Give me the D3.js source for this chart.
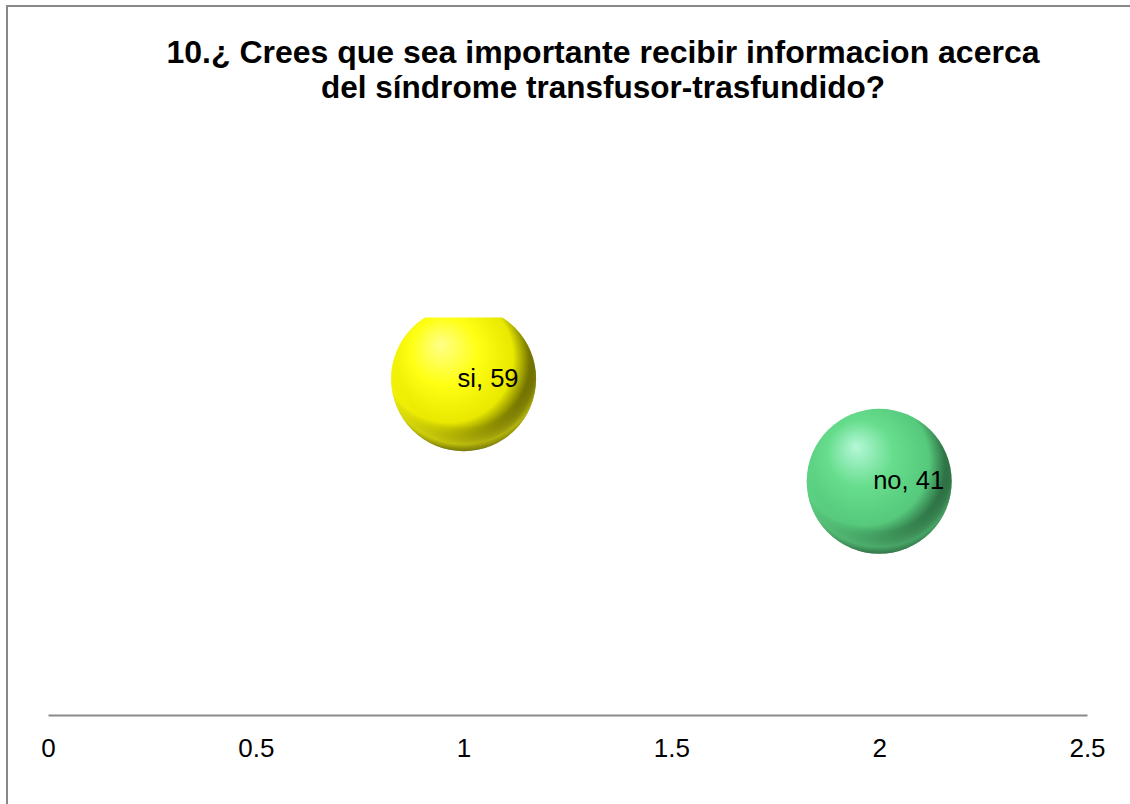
<!DOCTYPE html>
<html>
<head>
<meta charset="utf-8">
<script src="https://cdn.jsdelivr.net/npm/d3@7"></script>
<style>
  html, body { margin: 0; padding: 0; background: #fff; }
  svg { display: block; font-family: "Liberation Sans", Arial, sans-serif; }
</style>
</head>
<body>
<svg id="chart" width="1130" height="804"></svg>
<script>
const titleLines = ["10.¿ Crees que sea importante recibir informacion acerca", "del síndrome transfusor-trasfundido?"];
const categories = ["si", "no"];
const xValues = [1, 2];
const yValues = [59, 41];
const bubbleSizes = [1, 1];
const xTicks = [0, 0.5, 1, 1.5, 2, 2.5];
const colors = [
  { light: "#ffff8a", base: "#ffff14", mid: "#e8e800", dark: "#404000" },
  { light: "#b4f8d8", base: "#66dd8c", mid: "#56c97c", dark: "#1c4c2c" }
];

const svg = d3.select("#chart");
const W = 1130, H = 804;

// Chart border
svg.append("rect").attr("x", 7).attr("y", 6).attr("width", W + 10).attr("height", H + 10)
  .attr("fill", "#fff").attr("stroke", "#888").attr("stroke-width", 2);

// Title
const titleWidths = [873, 564];
const title = svg.append("text").attr("text-anchor", "middle")
  .attr("font-size", 30.5).attr("font-weight", "bold").attr("fill", "#000");
titleLines.forEach((t, i) => {
  title.append("tspan").attr("x", 603).attr("y", 63 + i * 35)
    .attr("textLength", titleWidths[i]).attr("lengthAdjust", "spacingAndGlyphs").text(t);
});

const plot = { left: 48, right: 1087, top: 316, bottom: 715 };
const x = d3.scaleLinear().domain([0, 2.5]).range([plot.left, plot.right]);
const y = d3.scaleLinear().domain([0, 70]).range([plot.bottom, plot.top]);
const r = d3.scaleSqrt().domain([0, d3.max(bubbleSizes)]).range([0, 72.5]);

const defs = svg.append("defs");
defs.append("clipPath").attr("id", "plotClip").append("rect")
  .attr("x", plot.left - 80).attr("y", plot.top + 1.5)
  .attr("width", plot.right - plot.left + 160).attr("height", plot.bottom - plot.top + 80);

colors.forEach((c, i) => {
  const g = defs.append("radialGradient").attr("id", "grad" + i)
    .attr("cx", "42%").attr("cy", "40%").attr("r", "66%")
    .attr("fx", "34%").attr("fy", "26%");
  g.append("stop").attr("offset", "0%").attr("stop-color", c.light);
  g.append("stop").attr("offset", "35%").attr("stop-color", c.base);
  g.append("stop").attr("offset", "68%").attr("stop-color", c.mid);
  g.append("stop").attr("offset", "90%").attr("stop-color", c.dark);
  g.append("stop").attr("offset", "100%").attr("stop-color", c.dark);
  // bottom reflection rim
  const g2 = defs.append("radialGradient").attr("id", "rim" + i)
    .attr("cx", "50%").attr("cy", "45%").attr("r", "55%");
  g2.append("stop").attr("offset", "75%").attr("stop-color", c.base).attr("stop-opacity", 0);
  g2.append("stop").attr("offset", "92%").attr("stop-color", c.base).attr("stop-opacity", 0.6);
  g2.append("stop").attr("offset", "100%").attr("stop-color", c.base).attr("stop-opacity", 0.3);
});

const data = categories.map((c, i) => ({ cat: c, x: xValues[i], y: yValues[i], s: bubbleSizes[i], i }));

const bubbles = svg.append("g").attr("clip-path", "url(#plotClip)");
data.forEach(d => {
  const cp = defs.append("clipPath").attr("id", "bc" + d.i);
  cp.append("circle").attr("cx", x(d.x)).attr("cy", y(d.y)).attr("r", r(d.s));
});
bubbles.selectAll("circle.b").data(data).enter().append("circle").attr("class", "b")
  .attr("cx", d => x(d.x)).attr("cy", d => y(d.y)).attr("r", d => r(d.s))
  .attr("fill", d => `url(#grad${d.i})`);
bubbles.selectAll("circle.rim").data(data).enter().append("circle").attr("class", "rim")
  .attr("clip-path", d => `url(#bc${d.i})`)
  .attr("cx", d => x(d.x)).attr("cy", d => y(d.y) - r(d.s) * 0.1).attr("r", d => r(d.s) * 1.1)
  .attr("fill", d => `url(#rim${d.i})`);

// Labels
svg.selectAll("text.lbl").data(data).enter().append("text").attr("class", "lbl")
  .attr("x", d => x(d.x) - 6).attr("y", d => y(d.y) + 8)
  .attr("font-size", 25.5).attr("fill", "#000")
  .text(d => `${d.cat}, ${d.y}`);

// X axis
const axis = svg.append("g").attr("transform", `translate(0,${plot.bottom})`)
  .call(d3.axisBottom(x).tickValues(xTicks).tickSize(0).tickPadding(0).tickFormat(d3.format("")));
axis.select(".domain").attr("stroke", "#8a8a8a").attr("stroke-width", 2);
axis.selectAll("text").attr("font-size", 26).attr("fill", "#000")
  .attr("font-family", "Liberation Sans, Arial, sans-serif")
  .attr("dy", 0).attr("y", 42);
</script>
</body>
</html>
